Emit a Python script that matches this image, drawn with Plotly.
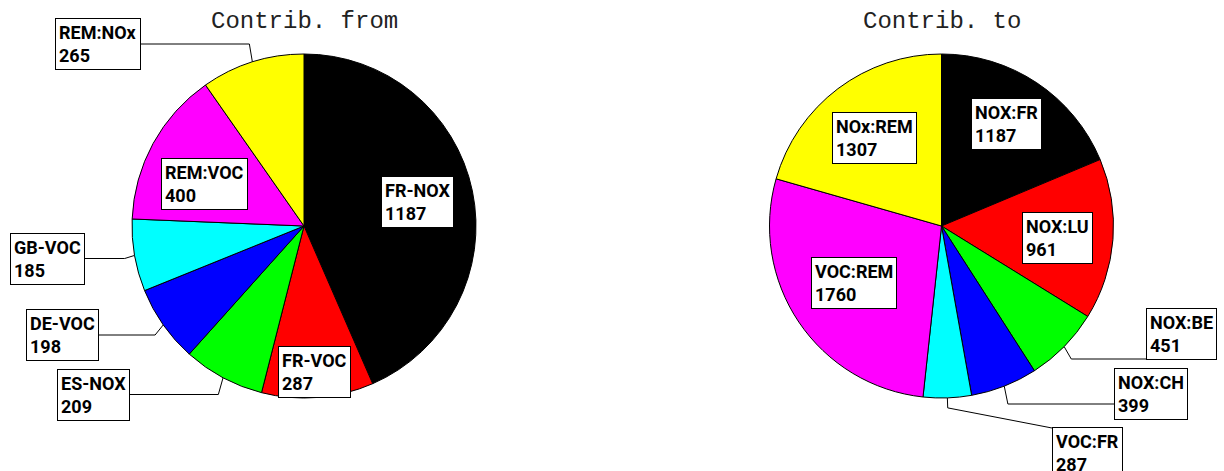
import math
import plotly.graph_objects as go

# ---------------- data ----------------
from_labels = ["FR-NOX", "FR-VOC", "ES-NOX", "DE-VOC", "GB-VOC", "REM:VOC", "REM:NOx"]
from_values = [1187, 287, 209, 198, 185, 400, 265]
to_labels = ["NOX:FR", "NOX:LU", "NOX:BE", "NOX:CH", "VOC:FR", "VOC:REM", "NOx:REM"]
to_values = [1187, 961, 451, 399, 287, 1760, 1307]
slice_colors = ["#000000", "#ff0000", "#00ff00", "#0000ff", "#00ffff", "#ff00ff", "#ffff00"]
titles = ["Contrib. from", "Contrib. to"]

# ---------------- layout (pixels) ----------------
W, H = 1224, 471
R = 172
centers = [(304, 226), (941.5, 226)]
title_y = 21
# inside: (kind, left, top)
# outside: (kind, box_anchor_x, box_center_y, side, end_y, elbow_mode)
from_layout = {
    "FR-NOX": ("in", 381, 176),
    "FR-VOC": ("in", 278, 346),
    "ES-NOX": ("out", 130, 394.5, "right", 394.5, "level"),
    "DE-VOC": ("out", 99, 335, "right", 335, "level"),
    "GB-VOC": ("out", 85, 258.5, "right", 258.5, "level"),
    "REM:VOC": ("in", 161, 158),
    "REM:NOx": ("out", 141, 44, "right", 44, "level"),
}
to_layout = {
    "NOX:FR": ("in", 971, 98),
    "NOX:LU": ("in", 1022, 212),
    "NOX:BE": ("out", 1146, 334, "left", 359, "level"),
    "NOX:CH": ("out", 1114, 394, "left", 404, "level"),
    "VOC:FR": ("out", 1052, 453, "left", 428, "radial"),
    "VOC:REM": ("in", 811, 257),
    "NOx:REM": ("in", 832, 112),
}

fig = go.Figure()

box_font = dict(family="Roboto, Liberation Sans, Arial, sans-serif", size=18, color="black")
annotations = []
shapes = []

for (cx, cy), labels, values, lay, title in zip(
        centers, [from_labels, to_labels], [from_values, to_values],
        [from_layout, to_layout], titles):
    fig.add_trace(go.Pie(
        labels=labels, values=values, sort=False, direction="clockwise", rotation=0,
        marker=dict(colors=slice_colors, line=dict(color="black", width=1)),
        textinfo="none", hoverinfo="label+value", showlegend=False,
        domain=dict(x=[(cx - R) / W, (cx + R) / W], y=[1 - (cy + R) / H, 1 - (cy - R) / H]),
    ))
    annotations.append(dict(
        x=cx, y=title_y, xref="x", yref="y", text=title, showarrow=False,
        xanchor="center", yanchor="middle",
        font=dict(family="Liberation Mono, Courier New, monospace", size=24, color="#222"),
    ))
    total = sum(values)
    cum = 0
    for name, v in zip(labels, values):
        mid = (cum + v / 2) / total * 2 * math.pi
        cum += v
        spec = lay[name]
        txt = f"<b>{name}</b><br><b>{v}</b>"
        common = dict(xref="x", yref="y", text=txt, showarrow=False, align="left",
                      font=box_font, bgcolor="white", bordercolor="black",
                      borderwidth=1, borderpad=3)
        if spec[0] == "in":
            annotations.append(dict(x=spec[1], y=spec[2], xanchor="left", yanchor="top", **common))
        else:
            _, ax, acy, side, end_y, mode = spec
            annotations.append(dict(x=ax, y=acy, xanchor=side, yanchor="middle", **common))
            ex = cx + R * math.sin(mid)
            ey = cy - R * math.cos(mid)
            bx = cx + (R + 10) * math.sin(mid)
            by = end_y if mode == "level" else cy - (R + 10) * math.cos(mid)
            path = f"M {ex},{ey} L {bx},{by} L {ax},{end_y}"
            shapes.append(dict(type="path", path=path, xref="x", yref="y",
                               line=dict(color="black", width=1), layer="below"))

# invisible helper trace to establish the pixel coordinate axes
fig.add_trace(go.Scatter(x=[0, W], y=[0, H], mode="markers",
                         marker=dict(opacity=0), hoverinfo="skip", showlegend=False))

fig.update_layout(
    width=W, height=H, margin=dict(l=0, r=0, t=0, b=0),
    paper_bgcolor="white", plot_bgcolor="rgba(0,0,0,0)",
    xaxis=dict(range=[0, W], visible=False, fixedrange=True, domain=[0, 1]),
    yaxis=dict(range=[H, 0], visible=False, fixedrange=True, domain=[0, 1]),
    annotations=annotations, shapes=shapes,
)

fig.write_html("out.html", config={"displayModeBar": False},
               post_script="document.body.style.margin='0';document.body.style.overflow='hidden';")
